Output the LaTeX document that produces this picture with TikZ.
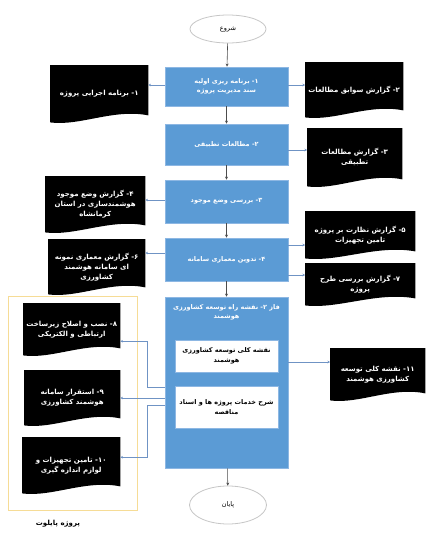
\documentclass[tikz,border=0pt]{standalone}
\usepackage{fontspec}
\usetikzlibrary{calc,backgrounds,arrows.meta,shapes.geometric}
\TeXXeTstate=1
\newfontfamily\fa[Script=Arabic]{DejaVu Sans}
\newcommand\rtltxt[1]{\beginR #1\endR}
\definecolor{mainblue}{HTML}{5B9BD5}
\definecolor{edgeblue}{HTML}{8DB7E3}
\definecolor{linkblue}{HTML}{6F93C4}
\definecolor{frameyellow}{HTML}{F6DC96}
\newcommand\wavedoc[1]{%
  \fill[black] (#1.north west) -- (#1.north east) -- ($(#1.south east)+(0,7pt)$)
    .. controls ($(#1.south west)!0.65!(#1.south east)+(0,14pt)$) and ($(#1.south west)!0.3!(#1.south east)+(0,-4pt)$)
    .. (#1.south west) -- cycle;}
\tikzset{
  mainbox/.style={draw=edgeblue, line width=0.8pt, fill=mainblue, text=white, minimum width=123pt,
    font=\fa\bfseries\fontsize{6.5}{9.5}\selectfont, align=center, inner sep=2pt},
  innerbox/.style={draw=edgeblue, fill=white, text=black, minimum width=103pt,
    font=\fa\bfseries\fontsize{6.5}{9.5}\selectfont, align=center, inner sep=2pt},
  term/.style={ellipse, draw=gray!45, line width=0.8pt, fill=white, minimum width=76pt,
    font=\fa\fontsize{6.5}{7}\selectfont},
  docbox/.style={anchor=north west, text=white, font=\fa\bfseries\fontsize{7}{10}\selectfont, align=center,
    inner sep=1pt},
  flow/.style={draw=gray!60!black, line width=0.6pt, -{Stealth[length=3pt,width=3pt]}},
  side/.style={draw=linkblue, line width=0.6pt, -{Stealth[length=2.5pt,width=2.5pt]}},
}
\begin{document}
\begin{tikzpicture}[x=1pt,y=-1pt]
\useasboundingbox (0,0) rectangle (428,536);
% terminals
\node[term, minimum height=28pt] (start) at (228,29) {\rtltxt{شروع}};
\node[term, minimum height=38pt, minimum width=77pt] (stop) at (228,505) {\rtltxt{پایان}};
% main boxes
\node[mainbox, minimum height=39pt] (b1) at (226.5,86.5) {\rtltxt{۱- برنامه ریزی اولیه}\\\rtltxt{سند مدیریت پروژه}};
\node[mainbox, minimum height=41pt] (b2) at (226.5,144.5) {\rtltxt{۲- مطالعات تطبیقی}};
\node[mainbox, minimum height=43pt] (b3) at (226.5,201.5) {\rtltxt{۳- بررسی وضع موجود}};
\node[mainbox, minimum height=43pt] (b4) at (226.5,259.5) {\rtltxt{۴- تدوین معماری سامانه}};
\node[mainbox, minimum height=171pt] (b5) at (226.5,382.5) {};
\node[text=white, font=\fa\bfseries\fontsize{6.5}{9.5}\selectfont, align=center, anchor=north] (b5t) at (226.5,301)
  {\rtltxt{فاز ۲- نقشه راه توسعه کشاورزی}\\\rtltxt{هوشمند}};
\node[innerbox, minimum height=32pt] (in1) at (226.5,356) {\rtltxt{نقشه کلی توسعه کشاورزی}\\\rtltxt{هوشمند}};
\node[innerbox, minimum height=42pt] (in2) at (226.5,407) {\rtltxt{شرح خدمات پروژه ها و اسناد}\\\rtltxt{مناقصه}};
% documents
\node[docbox, minimum width=98pt, minimum height=57pt] (L1) at (50,65) {\rtltxt{۱- برنامه اجرایی پروژه}};
\node[docbox, minimum width=100pt, minimum height=56pt] (L4) at (45,176) {\rtltxt{۴- گزارش وضع موجود}\\\rtltxt{هوشمندسازی در استان}\\\rtltxt{کرمانشاه}};
\node[docbox, minimum width=97pt, minimum height=55pt] (L6) at (48,239) {\rtltxt{۶- گزارش معماری نمونه}\\\rtltxt{ای سامانه هوشمند}\\\rtltxt{کشاورزی}};
\node[docbox, minimum width=98pt, minimum height=55pt] (R2) at (305,62) {\rtltxt{۲- گزارش سوابق مطالعات}};
\node[docbox, minimum width=95pt, minimum height=58pt] (R3) at (307,128) {\rtltxt{۳- گزارش مطالعات}\\\rtltxt{تطبیقی}};
\node[docbox, minimum width=110pt, minimum height=47pt] (R5) at (305,211) {\rtltxt{۵- گزارش نظارت بر پروژه}\\\rtltxt{تامین تجهیزات}};
\node[docbox, minimum width=110pt, minimum height=42pt] (R7) at (305,263) {\rtltxt{۷- گزارش بررسی طرح}\\\rtltxt{پروژه}};
\node[docbox, minimum width=95pt, minimum height=52pt] (R11) at (330,348) {\rtltxt{۱۱- نقشه کلی توسعه}\\\rtltxt{کشاورزی هوشمند}};
\node[docbox, minimum width=97pt, minimum height=52pt] (L8) at (23,303) {\rtltxt{۸- نصب و اصلاح زیرساخت}\\\rtltxt{ارتباطی و الکتریکی}};
\node[docbox, minimum width=96pt, minimum height=55pt] (L9) at (24,370) {\rtltxt{۹- استقرار سامانه}\\\rtltxt{هوشمند کشاورزی}};
\node[docbox, minimum width=98pt, minimum height=56pt] (L10) at (22,437) {\rtltxt{۱۰- تامین تجهیزات و}\\\rtltxt{لوازم اندازه گیری}};
\node[draw=frameyellow, line width=0.7pt, minimum width=129pt, minimum height=214pt, anchor=north west] (frame) at (8,296) {};
\node[font=\fa\bfseries\fontsize{7}{8}\selectfont] (pilot) at (58,524) {\rtltxt{پروژه پایلوت}};
\begin{scope}[on background layer]
  \wavedoc{L1}\wavedoc{L4}\wavedoc{L6}\wavedoc{R2}\wavedoc{R3}\wavedoc{R5}\wavedoc{R7}
  \wavedoc{R11}\wavedoc{L8}\wavedoc{L9}\wavedoc{L10}
\end{scope}
% main flow
\draw[flow] (start) -- (b1);
\draw[flow] (b1) -- (b2);
\draw[flow] (b2) -- (b3);
\draw[flow] (b3) -- (b4);
\draw[flow] (b4) -- (b5);
\draw[flow] (b5) -- (stop);
% side links
\coordinate (c1l) at ($(b1.west)+(0,-1.5)$);
\coordinate (c1r) at ($(b1.east)+(0,-1.5)$);
\draw[side] (c1l) -- (c1l -| L1.east);
\draw[side] (c1r) -- (c1r -| R2.west);
\coordinate (c2) at ($(b2.east)+(0,5.5)$);
\draw[side] (c2) -- (c2 -| R3.west);
\coordinate (c3) at ($(b3.west)+(0,-1.5)$);
\draw[side] (c3) -- (c3 -| L4.east);
\coordinate (c4l) at ($(b4.west)+(0,-6.5)$);
\draw[side] (c4l) -- (c4l -| L6.east);
\coordinate (c4a) at ($(b4.east)+(0,-14.5)$);
\coordinate (c4b) at ($(b4.east)+(0,15.5)$);
\draw[side] (c4a) -- (c4a -| R5.west);
\draw[side] (c4b) -- (c4b -| R7.west);
\coordinate (c5r) at ($(b5.east)+(0,-20.5)$);
\draw[side] (c5r) -- (c5r -| R11.west);
\coordinate (c8) at ($(b5.west)+(0,4.5)$);
\coordinate (c8t) at ($(L8.east)+(0,12)$);
\draw[side] (c8) -- ++(-17,0) |- (c8t -| L8.east);
\coordinate (c9) at ($(b5.west)+(0,15.5)$);
\draw[side] (c9) -- (c9 -| L9.east);
\coordinate (c10) at ($(b5.west)+(0,22.5)$);
\coordinate (c10t) at ($(L10.east)+(0,-8)$);
\draw[side] (c10) -- ++(-17,0) |- (c10t -| L10.east);
\end{tikzpicture}
\end{document}
